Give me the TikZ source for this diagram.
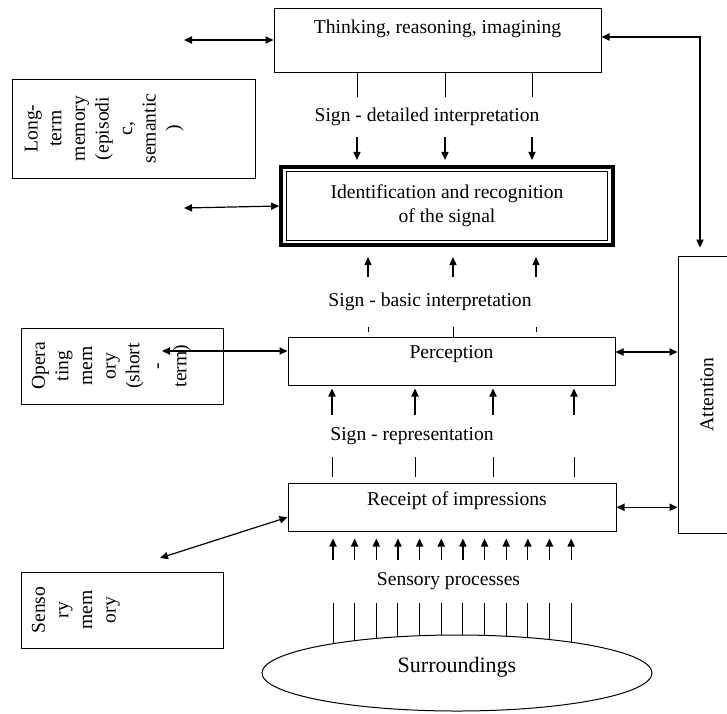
\documentclass[tikz,border=0pt]{standalone}
\usepackage{fontspec}
\setmainfont{Liberation Serif}
\usetikzlibrary{arrows.meta, shapes.geometric, calc}

\begin{document}
\begin{tikzpicture}[x=0.5pt, y=-0.5pt,
    every node/.style={font=\fontsize{9.8}{11.8}\selectfont},
    bx/.style={rectangle, draw, line width=0.5pt, inner xsep=3pt, inner ysep=3pt},
    mem/.style={rotate=90, anchor=north, align=center, inner sep=0pt},
    sg/.style={inner sep=0pt},
    ar/.style={line width=0.6pt, -{Triangle[length=4pt,width=3.6pt]}},
    dar/.style={line width=0.6pt, {Triangle[length=4pt,width=3.6pt]}-{Triangle[length=4pt,width=3.6pt]}},
    tk/.style={line width=0.5pt}]
    \useasboundingbox (0,0) rectangle (727,713);

    \node[bx, minimum width=163.5pt, minimum height=32pt, text height=9.5pt, text depth=16.5pt] (think) at (437.5,40) {Thinking, reasoning, imagining};
    \node[bx, line width=2.2pt, minimum width=165.75pt, minimum height=38.9pt, align=center] (ident) at (447,206) {Identification and recognition\\of the signal};
    \draw[line width=0.5pt] ([shift={(7,7)}]ident.north west) rectangle ([shift={(-7,-7)}]ident.south east);
    \node[bx, minimum width=163.5pt, minimum height=24pt, text height=7.5pt, text depth=10.5pt] (perc) at (451.5,361) {Perception};
    \node[bx, minimum width=164pt, minimum height=24.25pt, text height=8pt, text depth=10.25pt] (rec) at (452,507.25) {\hspace*{5pt}Receipt of impressions};
    \node[draw, ellipse, line width=0.5pt, inner sep=0pt, minimum width=195pt, minimum height=38pt,
          font=\fontsize{11}{13}\selectfont, text height=7.5pt, text depth=8.4pt] (surr) at (457,673) {Surroundings};

    \node[bx, minimum width=29pt, minimum height=138.5pt] (attn) at (707,394.5) {};
    \node[rotate=90] (attntxt) at (attn.center) {Attention};

    \node[bx, minimum width=121.5pt, minimum height=49.5pt] (ltm) at (133.5,128.5) {};
    \node[mem] (ltmtxt) at ([xshift=6.5pt]ltm.west) {Long-\\term\\memory\\(episodi\\c,\\semantic\\)};
    \node[bx, minimum width=101pt, minimum height=38pt] (opm) at (122,366) {};
    \node[mem] (opmtxt) at ([xshift=5.5pt]opm.west) {Opera\\ting\\mem\\ory\\(short\\-\\term)};
    \node[bx, minimum width=101pt, minimum height=38pt] (senm) at (122,610) {};
    \node[mem] (senmtxt) at ([xshift=5.5pt]senm.west) {Senso\\ry\\mem\\ory};

    \node[sg, minimum height=20pt] (sdet) at (427,117) {Sign - detailed interpretation};
    \node[sg, minimum height=25pt] (sbas) at (430,302) {Sign - basic interpretation};
    \node[sg, minimum height=21pt] (srep) at (412,436) {Sign - representation};
    \node[sg, minimum height=21.5pt] (sproc) at (448.5,581.5) {Sensory processes};

    \foreach \x in {357,445,532} {
        \draw[tk] (\x,0 |- think.south) -- (\x,0 |- sdet.north);
        \draw[ar, shorten >=2.5pt] (\x,0 |- sdet.south) -- (\x,0 |- ident.north);
    }
    \foreach \x in {368,453,536}
        \draw[ar, shorten >=5pt] (\x,0 |- sbas.north) -- (\x,0 |- ident.south);
    \draw[tk] (368,0 |- sbas.south) -- ++(0,5);
    \draw[tk] (453,0 |- sbas.south) -- (453,0 |- perc.north);
    \draw[tk] (536,0 |- sbas.south) -- ++(0,5);
    \foreach \x in {332,415,493,574} {
        \draw[ar, shorten >=1.5pt] (\x,0 |- srep.north) -- (\x,0 |- perc.south);
        \draw[tk, shorten >=3pt] (\x,0 |- srep.south) -- (\x,0 |- rec.north);
    }
    \foreach \i in {0,...,11} {
        \pgfmathsetmacro\xc{333+21.65*\i}
        \pgfmathsetmacro\yb{673-38*sqrt(1-((\xc-457)/195)^2)}
        \draw[ar, shorten >=3.25pt] (\xc,0 |- sproc.north) -- (\xc,0 |- rec.south);
        \draw[tk] (\xc,0 |- sproc.south) -- (\xc,\yb);
    }

    \coordinate (ltmA) at (184,40);
    \coordinate (ltmB) at (184,208);
    \coordinate (opmA) at (162,351);
    \coordinate (senmA) at (160,558);
    \draw[dar] (ltmA) -- (think.west);
    \draw[dar] (ltmB) -- (ident.west);
    \draw[dar] (opmA) -- (opmA -| perc.west);
    \draw[dar] ([yshift=-5pt]rec.west) -- (senmA);
    \draw[dar] ([yshift=4.5pt]perc.east) -- ([yshift=4.5pt]perc.east -| attn.west);
    \draw[dar] (rec.east) -- (rec.east -| attn.west);
    \draw[dar, shorten >=4pt] ([yshift=1.5pt]think.east) -| ([xshift=-3.5pt]attn.north);
\end{tikzpicture}
\end{document}
